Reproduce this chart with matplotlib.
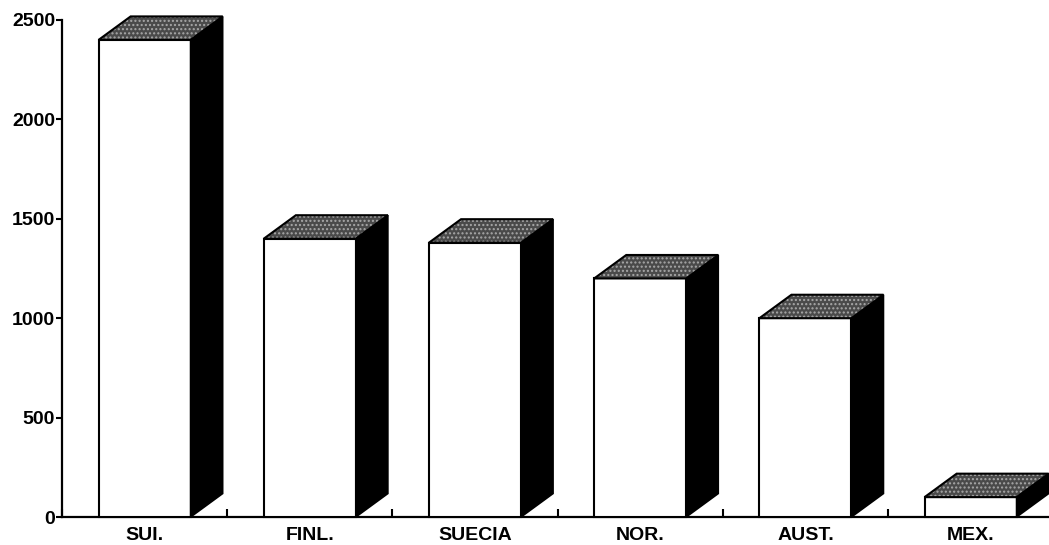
import matplotlib
matplotlib.use('Agg')
import matplotlib.pyplot as plt
from matplotlib.patches import Polygon
from matplotlib.ticker import MultipleLocator

paises = ['SUI.', 'FINL.', 'SUECIA', 'NOR.', 'AUST.', 'MEX.']
valores = [2400, 1400, 1380, 1200, 1000, 100]

plt.rcParams['font.family'] = ['Liberation Sans', 'DejaVu Sans']
plt.rcParams['font.weight'] = 'bold'

fig = plt.figure(figsize=(10.49, 5.45), dpi=100)
ax = fig.add_axes([62/1049, 28/545, 987/1049, 497/545])

ancho = 0.557   # front face width
dx = 0.194      # depth offset, x
dy = 118        # depth offset, y (data units)

for i, v in enumerate(valores):
    x0 = i - ancho/2
    x1 = i + ancho/2
    # front face
    ax.add_patch(Polygon([(x0, 0), (x1, 0), (x1, v), (x0, v)], closed=True,
                         facecolor='white', edgecolor='black', lw=1.5, clip_on=False, zorder=3))
    # right side
    ax.add_patch(Polygon([(x1, 0), (x1+dx, dy), (x1+dx, v+dy), (x1, v)], closed=True,
                         facecolor='black', edgecolor='black', lw=1.2, clip_on=False, zorder=3))
    # top face, stippled grey
    top = [(x0, v), (x1, v), (x1+dx, v+dy), (x0+dx, v+dy)]
    ax.add_patch(Polygon(top, closed=True, facecolor='#4a4a4a', edgecolor='#a8a8a8',
                         hatch='....', lw=0, clip_on=False, zorder=3))
    ax.add_patch(Polygon(top, closed=True, facecolor='none', edgecolor='black',
                         lw=1.5, clip_on=False, zorder=4))

ax.set_xlim(-0.5, -0.5 + 987/165.2)
ax.set_ylim(0, 2500)

for s in ['top', 'right']:
    ax.spines[s].set_visible(False)
ax.spines['left'].set_linewidth(1.6)
ax.spines['bottom'].set_linewidth(1.6)
ax.spines['left'].set_bounds(0, 2500)

ax.set_yticks(range(0, 2501, 500))
ax.tick_params(axis='y', direction='out', length=4, width=1.5, pad=1, labelsize=14)

ax.set_xticks(range(len(paises)))
ax.set_xticklabels(paises)
ax.xaxis.set_minor_locator(MultipleLocator(1, offset=0.5))
ax.tick_params(axis='x', which='major', length=0, pad=7, labelsize=14)
ax.tick_params(axis='x', which='minor', direction='in', length=6, width=1.5)

for lab in ax.get_xticklabels() + ax.get_yticklabels():
    lab.set_fontweight('bold')

fig.savefig('out.png', dpi=100)
plt.close()
